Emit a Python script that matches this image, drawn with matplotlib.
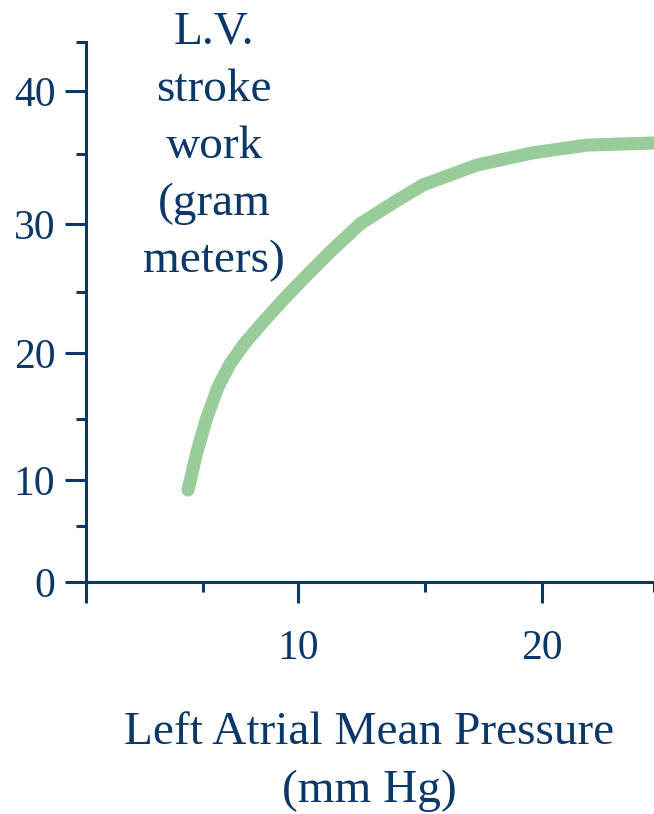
# -*- coding: utf-8 -*-
"""
LV stroke work vs. left atrial mean pressure (Starling curve)
"""

import matplotlib
matplotlib.use('Agg')
import matplotlib.pyplot as plt
import numpy as np

# Curve values
pressure = [4.36, 4.74, 5.16, 5.79, 6.42, 7.21, 8.16, 9.21, 10.28, 11.26,
            12.44, 13.74, 14.92, 17.22, 19.57, 22.03, 25.0]
stroke_work = [8.91, 12.30, 14.92, 17.42, 19.17, 20.82, 22.54, 24.34, 26.10, 27.94,
               30.00, 31.50, 32.79, 34.21, 35.08, 35.71, 35.87]

x_major = [0, 10, 20]
x_major_labels = ['', '10', '20']
x_minor = [5, 15, 25]
y_major = [0, 10, 20, 30, 40]
y_major_labels = ['0', '10', '20', '30', '40']
y_minor = [5, 15, 25, 35, 44]

# The drawn axes are not evenly spaced, so map ticks to where they sit
X_CAL_VAL = [0, 5, 10, 15, 20, 25]
X_CAL_PX = [86, 203, 298, 425, 542, 654]
Y_CAL_VAL = [0, 5, 10, 15, 20, 25, 30, 35, 40, 44]
Y_CAL_PX = [582, 526, 480, 419, 353, 292, 224, 154, 91, 42]

NAVY = '#0b3868'
GREEN = '#98cc98'

plt.rcParams['font.family'] = ['Liberation Serif', 'DejaVu Serif']

W, H = 654, 814
fig = plt.figure(figsize=(W / 100, H / 100), dpi=100)
ax = fig.add_axes([86 / W, 1 - 582 / H, (654 - 86) / W, (582 - 42) / H])

x_fwd = lambda v: np.interp(v, X_CAL_VAL, X_CAL_PX)
x_inv = lambda p: np.interp(p, X_CAL_PX, X_CAL_VAL)
y_fwd = lambda v: -np.interp(v, Y_CAL_VAL, Y_CAL_PX)
y_inv = lambda p: np.interp(-np.asarray(p), Y_CAL_PX[::-1], Y_CAL_VAL[::-1])
ax.set_xscale('function', functions=(x_fwd, x_inv))
ax.set_yscale('function', functions=(y_fwd, y_inv))

ax.plot(pressure, stroke_work, color=GREEN, linewidth=9.4,
        solid_capstyle='round', solid_joinstyle='round')

ax.set_xlim(0, 25)
ax.set_ylim(0, 44)

ax.set_xticks(x_major)
ax.set_xticklabels(x_major_labels)
ax.set_xticks(x_minor, minor=True)
ax.set_yticks(y_major)
ax.set_yticklabels(y_major_labels)
ax.set_yticks(y_minor, minor=True)

ax.tick_params(which='major', direction='out', length=15, width=2.2,
               color=NAVY, labelcolor=NAVY, labelsize=30)
ax.tick_params(axis='x', which='major', pad=19)
ax.tick_params(axis='y', which='major', pad=7)
ax.tick_params(which='minor', direction='out', length=7.5, width=2.2, color=NAVY)

for side in ['top', 'right']:
    ax.spines[side].set_visible(False)
for side in ['left', 'bottom']:
    ax.spines[side].set_color(NAVY)
    ax.spines[side].set_linewidth(2.2)

# Axis titles
fig.text(214 / W, 1 - 11 / H, 'L.V.\nstroke\nwork\n(gram\nmeters)',
         ha='center', va='top', fontsize=34, color=NAVY, linespacing=1.45)
fig.text(369 / W, 1 - 712 / H, 'Left Atrial Mean Pressure\n(mm Hg)',
         ha='center', va='top', fontsize=34, color=NAVY, linespacing=1.45)

plt.savefig('out.png', dpi=100, facecolor='white')
plt.close(fig)
